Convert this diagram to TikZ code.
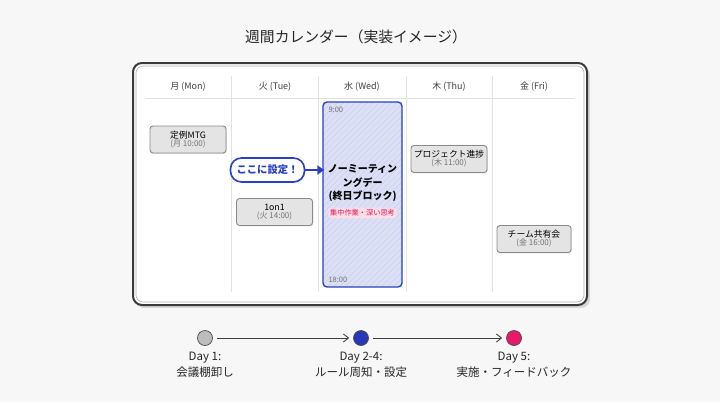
\documentclass[tikz,border=0pt]{standalone}
\usepackage{fontspec}
\setmainfont{Noto Sans CJK JP}
\usetikzlibrary{arrows.meta,shadows}
\definecolor{bg}{HTML}{F7F7F7}
\definecolor{frame}{HTML}{3A3A3A}
\definecolor{sepc}{HTML}{E2E2E2}
\definecolor{evfill}{HTML}{E4E4E4}
\definecolor{evdraw}{HTML}{8A8A8A}
\definecolor{wedfill}{HTML}{DCE0F6}
\definecolor{wedline}{HTML}{2B40C0}
\definecolor{hatch}{HTML}{CBD0EC}
\definecolor{pinkbg}{HTML}{FCDDE8}
\definecolor{pinktx}{HTML}{E0195A}
\definecolor{dayblue}{HTML}{2438B8}
\definecolor{daypink}{HTML}{E8186A}
\definecolor{daygray}{HTML}{BDBDBD}
\tikzset{
  hdr/.style={font=\fontsize{9}{10}\selectfont, text=black!75},
  evbox/.style={draw=evdraw, fill=evfill, rounded corners=3pt, line width=0.9pt, minimum width=76pt, minimum height=27pt, align=center, inner sep=1pt, font=\fontsize{8.8}{10}\selectfont, drop shadow={shadow xshift=0.8pt, shadow yshift=-0.8pt, opacity=0.25}},
  daydot/.style={circle, minimum size=15pt, inner sep=0pt, draw=black!70, line width=0.7pt},
  daylbl/.style={align=center, font=\fontsize{11.5}{16}\selectfont, text=black!85},
  flow/.style={-{Straight Barb[length=5pt,width=8pt]}, line width=0.9pt, draw=black!75},
}
\newcommand{\sub}[1]{{\fontsize{8}{9}\selectfont\color{black!55}#1}}
\begin{document}
\begin{tikzpicture}[x=1pt,y=-1pt]
\fill[bg] (0,0) rectangle (720,402);
\useasboundingbox (0,0) rectangle (720,402);
% title
\node[font=\fontsize{14.8}{16}\selectfont, text=black!85] (title) at (356,37) {週間カレンダー（実装イメージ）};
% frame
\fill[black, opacity=0.12, rounded corners=9pt] (135,66) rectangle (590,308);
\draw[frame, line width=2pt, fill=white, rounded corners=9pt] (133,63) rectangle (587,305);
\draw[black!30, line width=0.6pt, rounded corners=7pt] (136,66) rectangle (584,302);
% header line and column separators
\draw[sepc, line width=0.8pt] (145,98) -- (575,98);
\foreach \x in {231,318,406,492} { \draw[sepc, line width=0.8pt] (\x,76) -- (\x,292); }
\node[hdr] (mon) at (188,87) {月 (Mon)};
\node[hdr] (tue) at (275,87) {火 (Tue)};
\node[hdr] (wed) at (362,87) {水 (Wed)};
\node[hdr] (thu) at (449,87) {木 (Thu)};
\node[hdr] (fri) at (534,87) {金 (Fri)};
% events
\node[evbox] (mtg) at (188,139.5) {定例MTG\\[-2pt]\sub{(月 10:00)}};
\node[evbox] (oneon) at (274.5,212) {1on1\\[-2pt]\sub{(火 14:00)}};
\node[evbox] (proj) at (449,159) {プロジェクト進捗\\[-2pt]\sub{(木 11:00)}};
\node[evbox, minimum width=74pt] (team) at (534,239) {チーム共有会\\[-2pt]\sub{(金 16:00)}};
% wednesday block
\path[fill=wedfill, rounded corners=4pt] (323,102) rectangle (402,287);
\begin{scope}
\clip[rounded corners=4pt] (323,102) rectangle (402,287);
\foreach \i in {-200,-194,...,90} { \draw[hatch, line width=0.5pt] (323+\i,287) -- (323+\i+185,102); }
\end{scope}
\draw[wedline, line width=1.4pt, rounded corners=4pt] (323,102) rectangle (402,287);
\node[font=\fontsize{7.5}{8}\selectfont, text=black!55, anchor=west] (t9) at (325,110) {9:00};
\node[font=\fontsize{7.5}{8}\selectfont, text=black!55, anchor=west] (t18) at (325,280) {18:00};
\node[align=center, font=\bfseries\fontsize{10}{13.5}\selectfont] (nomtg) at (362.5,183.5) {ノーミーティン\\ングデー\\(終日ブロック)};
\node[fill=pinkbg, rounded corners=4pt, text=pinktx, font=\fontsize{7.2}{8}\selectfont, inner sep=2pt] (tag) at (362.5,213) {集中作業・深い思考};
% callout
\node[draw=wedline, line width=1.6pt, fill=white, rounded corners=11pt, minimum width=74pt, minimum height=24pt, inner sep=1pt, text=wedline, font=\bfseries\fontsize{10.3}{12}\selectfont, drop shadow={shadow xshift=1pt, shadow yshift=-1pt, opacity=0.2}] (call) at (267.5,170) {ここに設定！};
\draw[wedline, line width=2.5pt, -{Triangle[length=7pt,width=9pt]}] (call.east) -- (nomtg.west |- call.east);
% timeline
\node[daydot, fill=daygray] (d1) at (205,338) {};
\node[daydot, fill=dayblue] (d2) at (361,338) {};
\node[daydot, fill=daypink] (d3) at (514,338) {};
\draw[flow] (d1.east) ++(4,0) -- ([xshift=-4pt]d2.west);
\draw[flow] (d2.east) ++(4,0) -- ([xshift=-4pt]d3.west);
\node[daylbl] (l1) at (205,365) {Day 1:\\会議棚卸し};
\node[daylbl] (l2) at (361,365) {Day 2-4:\\ルール周知・設定};
\node[daylbl] (l3) at (514,365) {Day 5:\\実施・フィードバック};
\end{tikzpicture}
\end{document}
